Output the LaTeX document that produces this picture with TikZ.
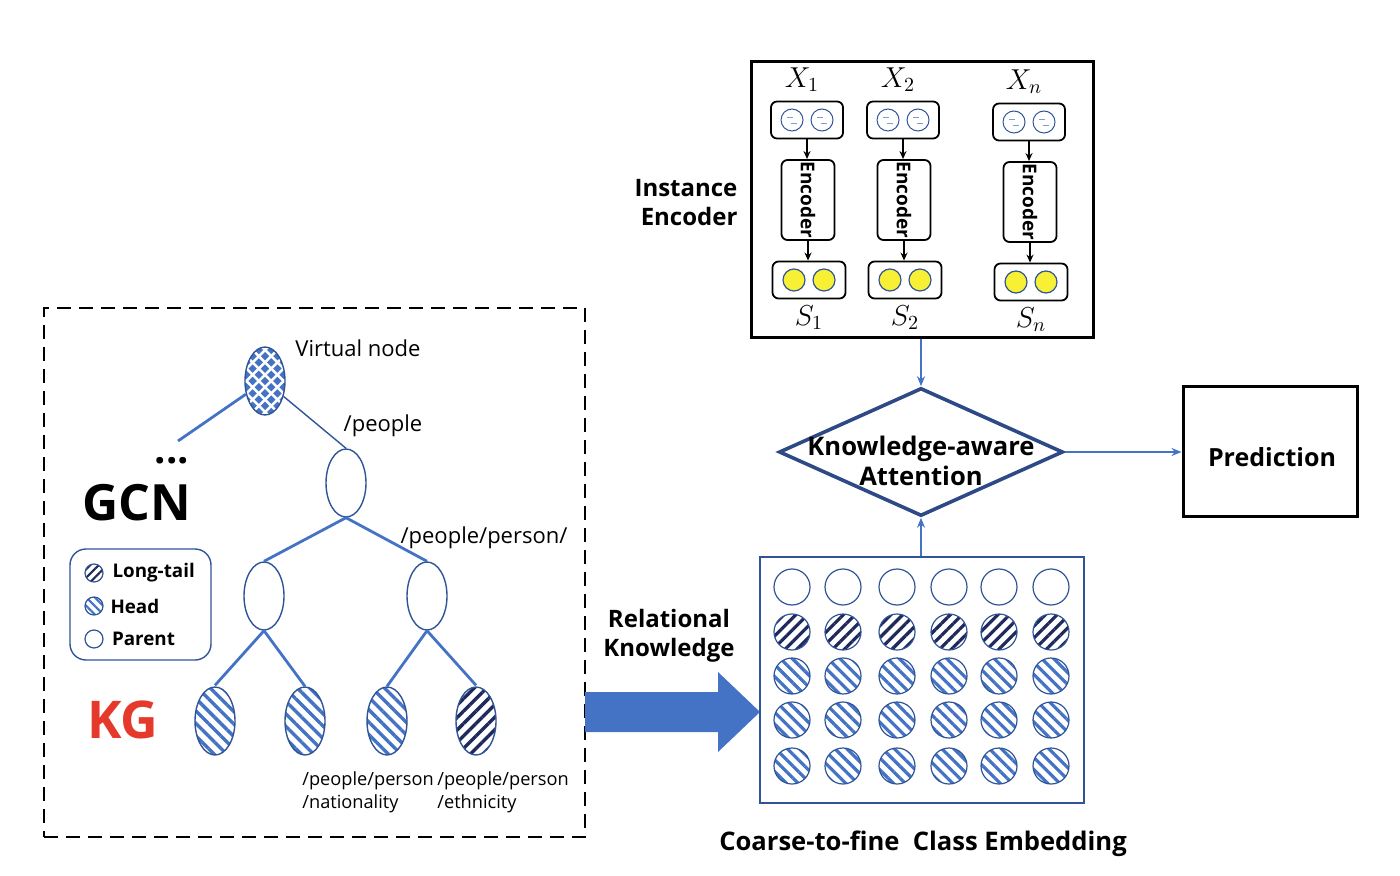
\documentclass[tikz,border=0pt]{standalone}
\usepackage{fontspec}
\setmainfont{Open Sans}
\usepackage{amsmath}
\usepackage{xcolor}
\usetikzlibrary{shapes.geometric, arrows.meta, positioning, patterns.meta}

\definecolor{kgblue}{HTML}{4472C4}
\definecolor{kgedge}{HTML}{2F5597}
\definecolor{kgnavy}{HTML}{1F2A5C}
\definecolor{kgred}{HTML}{E5392B}
\definecolor{kgyellow}{HTML}{F7F035}
\definecolor{attblue}{HTML}{2E4A86}

\begin{document}
\begin{tikzpicture}[
    x=0.5pt, y=-0.5pt,
    every node/.style={inner sep=0pt},
    treenode/.style={ellipse, draw=kgedge, line width=0.7pt, minimum width=20pt, minimum height=34pt, fill=white},
    headnode/.style={treenode, pattern={Lines[angle=-45, distance=4.4pt, line width=1.7pt]}, pattern color=kgblue},
    tailnode/.style={treenode, pattern={Lines[angle=45, distance=4.4pt, line width=1.7pt]}, pattern color=kgnavy},
    virtnode/.style={treenode, path picture={
        \foreach \i in {-4,...,4}
          \foreach \j in {-7,...,7} {
            \pgfmathtruncatemacro{\chk}{mod(\i+\j+100,2)}
            \ifnum\chk=0
              \fill[kgblue] ([shift={(\i*3.1pt,\j*3.1pt)}]path picture bounding box.center)
                ++(-2.1pt,0) -- ++(2.1pt,2.1pt) -- ++(2.1pt,-2.1pt) -- ++(-2.1pt,-2.1pt) -- cycle;
            \fi
          }}},
    dot/.style={circle, draw=kgedge, line width=0.6pt, minimum size=#1, fill=white},
    dot/.default=18pt,
    headdot/.style={dot=#1, pattern={Lines[angle=-45, distance=4.2pt, line width=1.6pt]}, pattern color=kgblue},
    headdot/.default=18pt,
    taildot/.style={dot=#1, pattern={Lines[angle=45, distance=4.2pt, line width=1.6pt]}, pattern color=kgnavy},
    taildot/.default=18pt,
    treeedge/.style={draw=kgblue, line width=1.4pt},
    treelabel/.style={font=\fontsize{11}{13}\selectfont},
    boldlabel/.style={font=\bfseries\fontsize{12}{14.5}\selectfont, align=center},
    legtext/.style={font=\bfseries\fontsize{9.4}{11}\selectfont, anchor=west},
    pathtext/.style={font=\fontsize{9.1}{11.5}\selectfont, align=left, anchor=north west},
    inbox/.style={rectangle, rounded corners=3pt, draw, line width=0.9pt, minimum width=36pt, minimum height=18.5pt},
    outbox/.style={inbox, minimum width=36.5pt},
    encbox/.style={rectangle, rounded corners=3pt, draw, line width=0.9pt, minimum width=26.5pt, minimum height=40pt},
    incircle/.style={circle, draw=kgedge, line width=0.5pt, minimum size=11pt, path picture={
        \draw[kgblue!70, line width=0.4pt] ([shift={(-2.5pt,1.2pt)}]path picture bounding box.center) -- ++(3pt,0);
        \draw[kgblue!70, line width=0.4pt] ([shift={(-0.5pt,-1.5pt)}]path picture bounding box.center) -- ++(3pt,0);}},
    outcircle/.style={circle, draw=kgedge, line width=0.6pt, minimum size=11pt, fill=kgyellow},
    encarrow/.style={-{Stealth[length=4pt, width=3.5pt]}, line width=0.9pt},
    flow/.style={-{Stealth[length=5pt, width=4pt]}, draw=kgblue, line width=0.9pt}
]
    \useasboundingbox (0,0) rectangle (1400,876);

    % KG part
    \node[draw, dashed, dash pattern=on 7pt off 4pt, line width=1.4pt, minimum width=270.5pt, minimum height=264.5pt] (kgbox) at (314.5,572.5) {};

    \node[virtnode] (virt) at (265,381) {};
    \node[treenode] (people) at (346,483) {};
    \node[treenode] (personl) at (264,596) {};
    \node[treenode] (personr) at (427,596) {};
    \node[headnode] (leafa) at (215,721) {};
    \node[headnode] (leafb) at (305,721) {};
    \node[headnode] (nation) at (387,721) {};
    \node[tailnode] (ethnic) at (476,721) {};
    \coordinate (dotsend) at (178,441);

    \draw[treeedge] (virt) -- (dotsend);
    \draw[draw=kgedge, line width=0.7pt] (virt) -- (people.north);
    \draw[treeedge] (people.south) -- (personl.north);
    \draw[treeedge] (people.south) -- (personr.north);
    \draw[treeedge] (personl.south) -- (leafa.north);
    \draw[treeedge] (personl.south) -- (leafb.north);
    \draw[treeedge] (personr.south) -- (nation.north);
    \draw[treeedge] (personr.south) -- (ethnic.north);

    \node[treelabel] (virtlab) at (358,348) {Virtual node};
    \node[treelabel] (peoplelab) at (383,426) {/people};
    \node[treelabel] (personlab) at (484,538) {/people/person/};
    \node[font=\bfseries\fontsize{20}{20}\selectfont] (dots) at (172,461) {...};
    \node[font=\bfseries\fontsize{25}{28}\selectfont] (gcn) at (137,503) {GCN};
    \node[font=\bfseries\fontsize{26}{29}\selectfont, text=kgred] (kg) at (123,720) {KG};
    \node[pathtext] (nationlab) at (302,771) {/people/person\\/nationality};
    \node[pathtext] (ethniclab) at (437,771) {/people/person\\/ethnicity};

    % Legend
    \node[rectangle, rounded corners=8pt, draw=kgedge, line width=0.7pt, minimum width=70.5pt, minimum height=55.5pt] (legend) at (140.5,604.5) {};
    \node[taildot=9pt, pattern={Lines[angle=45, distance=3pt, line width=1.1pt]}] (lt) at (94,573) {};
    \node[headdot=9pt, pattern={Lines[angle=-45, distance=3pt, line width=1.1pt]}] (hd) at (94,606) {};
    \node[dot=9pt] (pr) at (94,639) {};
    \node[legtext, right=4pt of lt] (ltlab) {Long-tail};
    \node[legtext, right=3pt of hd] (hdlab) {Head};
    \node[legtext, right=4pt of pr] (prlab) {Parent};

    % Relational knowledge arrow
    \fill[kgblue] (585,692) -- (718,692) -- (718,672) -- (760,712) -- (718,752) -- (718,732) -- (585,732) -- cycle;
    \node[boldlabel] (rellab) at (669,636) {Relational\\Knowledge};

    % Instance encoder
    \node[draw, line width=1.5pt, minimum width=171pt, minimum height=138pt] (inst) at (922,200) {};
    \node[boldlabel, align=right] (instlab) at (686,203) {Instance\\Encoder};
    \foreach \c/\x/\dy in {1/807/0, 2/903/0, n/1029/2} {
        \node[inbox] (in\c) at (\x,120+\dy) {};
        \node[incircle] (in\c a) at (\x-15,120+\dy) {};
        \node[incircle] (in\c b) at (\x+15,120+\dy) {};
        \node[encbox] (enc\c) at (\x+1,200+\dy) {};
        \node[rotate=-90, font=\bfseries\fontsize{9.5}{12}\selectfont] (enc\c txt) at (enc\c) {Encoder};
        \node[outbox] (out\c) at (\x+2,280+\dy) {};
        \node[outcircle] (out\c a) at (\x-13,280+\dy) {};
        \node[outcircle] (out\c b) at (\x+17,280+\dy) {};
        \node[font=\fontsize{14}{16}\selectfont] (x\c) at (\x-5,80+\dy) {$X_{\c}$};
        \node[font=\fontsize{14}{16}\selectfont] (s\c) at (\x+2,318+\dy) {$S_{\c}$};
        \draw[encarrow] (in\c) -- (in\c |- enc\c.north);
        \draw[encarrow] (enc\c) -- (enc\c |- out\c.north);
    }

    % Attention and prediction
    \node[diamond, draw=attblue, line width=1.8pt, minimum width=142pt, minimum height=64pt, aspect=2.2,
          label={[name=attlab, boldlabel, font=\bfseries\fontsize{12.8}{15}\selectfont, yshift=-4.5pt]center:Knowledge-aware\\Attention}] (att) at (921,452) {};
    \node[draw, line width=1.5pt, minimum width=87pt, minimum height=64.5pt] (pred) at (1270,451.5) {};
    \node[boldlabel, font=\bfseries\fontsize{12.5}{14.5}\selectfont] (predlab) at (1272,457) {Prediction};
    \draw[flow] (inst.south -| att.north) -- (att.north);
    \draw[flow] (att.east) -- (pred.west |- att.east);

    % Class embedding
    \node[draw=kgedge, line width=0.8pt, minimum width=162pt, minimum height=123pt] (emb) at (922,680) {};
    \foreach \x [count=\k] in {792,843,897,949,999,1051} {
        \node[dot] (p\k) at (\x,587) {};
        \node[taildot] (t\k) at (\x,632) {};
        \node[headdot] (ha\k) at (\x,676) {};
        \node[headdot] (hb\k) at (\x,720) {};
        \node[headdot] (hc\k) at (\x,766) {};
    }
    \draw[flow] (emb.north -| att.south) -- (att.south);
    \node[boldlabel, font=\bfseries\fontsize{12.8}{15}\selectfont] (emblab) at (923,844) {Coarse-to-fine~~Class Embedding};
\end{tikzpicture}
\end{document}
